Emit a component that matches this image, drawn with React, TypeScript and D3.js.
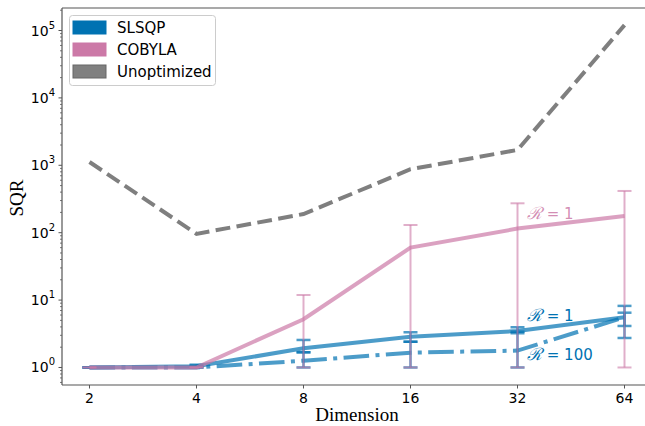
import * as d3 from "d3";

const dims = [2, 4, 8, 16, 32, 64];
const unoptimized = [1120, 96, 189, 873, 1690, 120000];
const cobyla = [1.0, 1.0, 5.2, 60, 115, 177];
const cobylaLo = [1.0, 1.0, 1.0, 1.0, 1.0, 1.0];
const cobylaHi = [1.0, 1.0, 11.9, 130, 273, 416];
const slsqpR1 = [1.0, 1.04, 1.93, 2.86, 3.48, 5.55];
const slsqpR1Lo = [1.0, 1.0, 1.68, 2.41, 3.22, 4.13];
const slsqpR1Hi = [1.0, 1.1, 2.56, 3.33, 3.95, 6.5];
const slsqpR100 = [1.0, 1.0, 1.26, 1.66, 1.78, 5.55];
const slsqpR100Lo = [1.0, 1.0, 1.0, 1.0, 1.0, 2.74];
const slsqpR100Hi = [1.0, 1.06, 1.68, 2.41, 3.4, 8.2];
const yTicks = [0, 1, 2, 3, 4, 5];
const legendItems = [
  { label: "SLSQP", color: "#0072B2" },
  { label: "COBYLA", color: "#CC79A7" },
  { label: "Unoptimized", color: "#808080" },
];

const BLUE = "#0072B2";
const PINK = "#CC79A7";
const GRAY = "#7f7f7f";
const AXIS = "#555";

export default function App() {
  const width = 645;
  const height = 426;
  const left = 62;
  const right = 652;
  const top = 8;
  const bottom = 385;

  const x = d3
    .scaleLog()
    .base(2)
    .domain([Math.pow(2, 0.743), Math.pow(2, 6.257)])
    .range([left, right]);
  const y = d3
    .scaleLog()
    .domain([Math.pow(10, -0.26), Math.pow(10, 5.334)])
    .range([bottom, top]);

  const line = (vals: number[]) =>
    d3
      .line<number>()
      .x((_, i) => x(dims[i]))
      .y((v) => y(v))(vals) || "";

  const minor: number[] = [];
  for (let d = -1; d <= 5; d++) {
    for (let k = 2; k <= 9; k++) {
      const v = k * Math.pow(10, d);
      if (y(v) <= bottom && y(v) >= top) minor.push(v);
    }
  }

  const errbar = (
    lo: number[],
    hi: number[],
    color: string,
    opacity: number,
    sw: number,
    key: string
  ) =>
    dims.map((d, i) => {
      const cx = x(d);
      return (
        <g key={key + i} stroke={color} strokeOpacity={opacity} strokeWidth={sw}>
          <line x1={cx} x2={cx} y1={y(lo[i])} y2={y(hi[i])} />
          <line x1={cx - 7} x2={cx + 7} y1={y(lo[i])} y2={y(lo[i])} />
          <line x1={cx - 7} x2={cx + 7} y1={y(hi[i])} y2={y(hi[i])} />
        </g>
      );
    });

  const calR = (
    <tspan fontFamily="DejaVu Serif, serif" fontStyle="italic" fontSize={17}>
      ℛ
    </tspan>
  );

  return (
    <svg
      width={width}
      height={height}
      style={{ position: "absolute", left: 0, top: 0 }}
      fontFamily="DejaVu Sans, sans-serif"
    >
      <rect width={width} height={height} fill="#fff" />

      {/* SLSQP */}
      {errbar(slsqpR1Lo, slsqpR1Hi, BLUE, 0.7, 2.5, "s1")}
      {errbar(slsqpR100Lo, slsqpR100Hi, BLUE, 0.7, 2.5, "s2")}
      <path d={line(slsqpR1)} fill="none" stroke={BLUE} strokeOpacity={0.7} strokeWidth={4} />
      <path
        d={line(slsqpR100)}
        fill="none"
        stroke={BLUE}
        strokeOpacity={0.7}
        strokeWidth={4}
        strokeDasharray="25.6 6.4 4 6.4"
      />

      {/* COBYLA error bars and line */}
      {errbar(cobylaLo, cobylaHi, PINK, 0.6, 2, "c")}
      <path d={line(cobyla)} fill="none" stroke={PINK} strokeOpacity={0.7} strokeWidth={4} />

      {/* Unoptimized */}
      <path
        d={line(unoptimized)}
        fill="none"
        stroke={GRAY}
        strokeWidth={4}
        strokeDasharray="14.8 6.4"
      />

      {/* annotations */}
      <text x={527} y={219} fontSize={15} fill={PINK} fillOpacity={0.85}>
        {calR} = 1
      </text>
      <text x={527} y={321} fontSize={15} fill={BLUE}>
        {calR} = 1
      </text>
      <text x={527} y={360} fontSize={15} fill={BLUE}>
        {calR} = 100
      </text>

      {/* spines */}
      <line x1={left} x2={left} y1={top} y2={bottom} stroke={AXIS} strokeWidth={1.2} />
      <line x1={left} x2={width} y1={bottom} y2={bottom} stroke={AXIS} strokeWidth={1.2} />
      <line x1={left} x2={width} y1={top} y2={top} stroke={AXIS} strokeWidth={1.2} />

      {/* y ticks */}
      {minor.map((v) => (
        <line key={"m" + v} x1={left - 2} x2={left} y1={y(v)} y2={y(v)} stroke={AXIS} strokeWidth={0.8} />
      ))}
      {yTicks.map((e) => (
        <g key={"y" + e}>
          <line x1={left - 3.5} x2={left} y1={y(Math.pow(10, e))} y2={y(Math.pow(10, e))} stroke={AXIS} />
          <text x={55} y={y(Math.pow(10, e)) + 5} fontSize={14} textAnchor="end" fill="#000">
            10
            <tspan fontSize={10} dy={-7}>
              {e}
            </tspan>
          </text>
        </g>
      ))}

      {/* x ticks */}
      {dims.map((d) => (
        <g key={"x" + d}>
          <line x1={x(d)} x2={x(d)} y1={bottom} y2={bottom + 3.5} stroke={AXIS} />
          <text x={x(d)} y={bottom + 18} fontSize={14} textAnchor="middle" fill="#000">
            {d}
          </text>
        </g>
      ))}

      <text
        x={357}
        y={421}
        fontSize={19}
        textAnchor="middle"
        fontFamily="Liberation Serif, serif"
      >
        Dimension
      </text>
      <text
        transform="translate(23,198) rotate(-90)"
        fontSize={19}
        textAnchor="middle"
        fontFamily="Liberation Serif, serif"
      >
        SQR
      </text>

      {/* legend */}
      <rect x={69.5} y={15.5} width={146} height={70} rx={3} fill="#fff" fillOpacity={0.8} stroke="#ccc" />
      {legendItems.map((it, i) => (
        <g key={it.label}>
          <rect
            x={73}
            y={21 + i * 22}
            width={33}
            height={13}
            fill={it.color}
            stroke={it.label === "Unoptimized" ? "#666" : it.color}
          />
          <text x={117} y={33 + i * 22} fontSize={15} fill="#000">
            {it.label}
          </text>
        </g>
      ))}
    </svg>
  );
}
